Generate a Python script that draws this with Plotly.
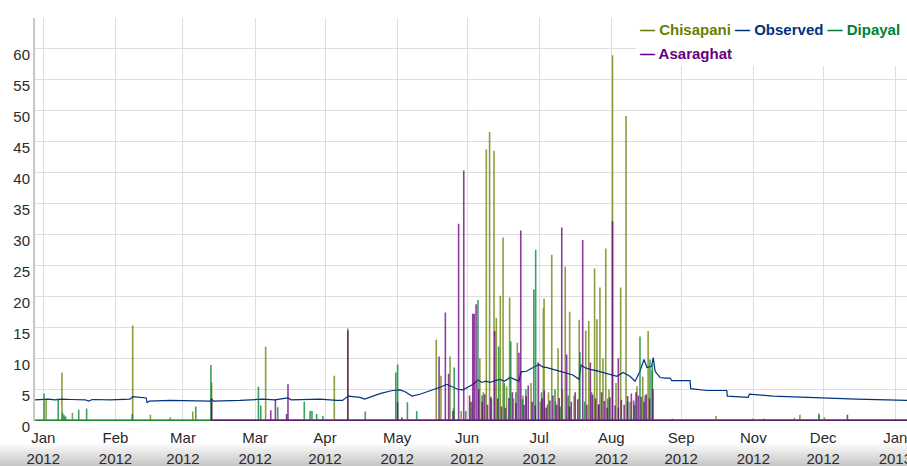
import numpy as np
import pandas as pd
import plotly.graph_objects as go

# Day-of-year positions (fractional days after 2012-01-01 00:00) and readings
chisapani_doy = [-3.6, 1.2, 8.0, 12.5, 38.4, 46.0, 54.5, 64.2, 72.3, 95.5, 125.0, 130.8,
                 168.8, 170.8, 174.7, 176.2, 179.5, 183.5, 187.5, 189.0, 190.3, 191.7,
                 193.6, 194.6, 196.3, 197.5, 199.0, 200.3, 202.0, 203.6, 206.0, 209.5,
                 213.5, 214.8, 215.1, 217.0, 218.4, 220.0, 221.1, 223.0, 224.2, 226.1,
                 228.0, 230.2, 233.0, 234.3, 236.8, 237.8, 239.1, 240.4, 241.6, 243.0,
                 244.5, 246.0, 248.0, 250.3, 252.0, 255.0, 257.5, 259.8, 261.5, 270.2,
                 289.0, 304.7, 309.7, 322.6, 325.0, 333.2, 335.5, 371.0]
chisapani_mm = [0, 3.4, 7.7, 1.2, 15.3, 0.9, 0.5, 1.4, 6.1, 11.9, 7.2, 14.8,
                13.0, 7.2, 10.3, 2.0, 1.5, 3.0, 10.0, 4.5, 43.7, 46.5,
                43.5, 16.5, 20.1, 29.5, 5.5, 19.8, 3.5, 12.5, 4.0, 6.0,
                3.0, 18.1, 19.6, 4.5, 26.7, 3.0, 11.6, 5.0, 24.8, 17.5,
                4.0, 16.2, 14.5, 16.0, 24.5, 16.3, 21.4, 10.0, 27.7, 5.0,
                58.9, 6.0, 21.4, 49.1, 3.0, 5.5, 7.0, 14.4, 8.0, 0.3,
                0.7, 0.3, 0.3, 0.4, 0.9, 0.8, 0.5, 0]

dipayal_doy = [-3.6, 0.3, 6.4, 8.3, 9.0, 9.6, 15.2, 18.6, 38.2, 65.5, 72.0, 92.4, 93.4,
               100.7, 112.1, 114.6, 115.4, 117.4, 120.1, 138.3, 151.4, 152.2, 156.4,
               160.4, 176.5, 181.5, 184.0, 186.7, 188.5, 192.5, 195.6, 198.0, 200.8,
               203.0, 205.8, 207.3, 210.7, 211.5, 214.0, 216.5, 219.8, 222.0, 225.5,
               230.5, 232.5, 235.5, 238.5, 242.5, 247.0, 251.0, 254.0, 256.3, 258.5,
               260.6, 261.6, 333.2, 371.0]
dipayal_mm = [0, 4.3, 3.5, 1.2, 0.8, 0.6, 1.7, 1.9, 1.0, 2.2, 8.9, 5.4, 2.4,
              2.1, 3.0, 1.5, 1.5, 1.0, 0.7, 1.4, 7.7, 9.0, 2.9,
              1.5, 8.5, 1.5, 3.0, 19.4, 4.0, 3.5, 11.9, 6.0, 12.7,
              4.5, 3.4, 5.0, 21.1, 27.5, 4.5, 2.5, 5.0, 2.2, 4.0,
              11.0, 3.0, 4.5, 2.5, 3.5, 2.0, 3.0, 2.5, 13.5, 4.0,
              9.8, 9.0, 1.1, 0]

asaraghat_doy = [72.0, 72.3, 97.7, 99.7, 104.5, 105.1, 130.8, 152.2, 154.0, 170.0, 172.7,
                 174.1, 176.0, 178.4, 180.6, 183.1, 184.5, 185.1, 185.9, 187.0, 188.5,
                 189.6, 190.8, 192.2, 193.9, 195.2, 196.8, 198.5, 200.0, 201.5, 203.0,
                 204.3, 205.1, 206.5, 207.4, 208.3, 210.0, 211.3, 212.6, 214.3, 215.2,
                 216.0, 217.6, 218.9, 220.5, 221.6, 222.7, 224.8, 226.0, 226.8, 228.5,
                 229.6, 231.7, 233.5, 235.0, 236.0, 237.2, 238.6, 239.8, 241.0, 242.2,
                 243.4, 244.5, 245.6, 247.0, 248.3, 249.5, 251.0, 252.6, 253.6, 254.6,
                 255.6, 256.8, 258.0, 259.0, 260.4, 261.9, 345.4, 371.0]
asaraghat_mm = [0, 3.3, 1.6, 3.4, 1.0, 5.8, 14.5, 2.9, 0.5, 10.3, 17.4,
                7.5, 1.5, 31.7, 40.3, 4.0, 17.2, 17.2, 18.7, 5.0, 3.0,
                4.2, 2.5, 3.8, 14.4, 3.5, 2.2, 2.0, 3.6, 4.5, 2.8,
                10.9, 30.6, 2.5, 3.9, 5.6, 3.0, 2.4, 9.3, 3.5, 4.8,
                2.0, 3.2, 4.0, 2.5, 3.6, 31.1, 10.6, 2.2, 3.0, 4.5,
                3.4, 29.1, 2.5, 9.3, 4.1, 3.5, 2.6, 4.5, 3.1, 2.0,
                3.7, 32.1, 2.4, 10.0, 3.3, 2.5, 3.9, 4.3, 3.2, 4.5,
                4.0, 3.8, 3.0, 4.2, 3.5, 5.0, 0.9, 0]

observed_doy = [-3.6, 2, 5, 8, 12, 18, 19.5, 21, 28.7, 37.2, 38.5, 41, 44.2, 44.6, 45.5,
                54.4, 67.3, 71.8, 72.2, 73.0, 84.5, 94.0, 99.5, 105.0, 106.5, 118.8,
                126.0, 128.5, 131.0, 136.0, 138.0, 144.6, 150.0, 153.2, 155.4, 158.4,
                161.8, 165.0, 168.7, 171.0, 173.3, 176.0, 178.0, 180.3, 182.5, 184.6,
                186.7, 188.5, 190.0, 191.9, 194.0, 196.2, 198.0, 200.5, 202.5, 204.3,
                205.2, 207.5, 210.4, 212.9, 214.5, 216.4, 219.0, 221.9, 224.5, 227.5,
                230.1, 231.0, 232.5, 234.8, 237.5, 240.4, 243.5, 246.4, 249.0, 252.0,
                254.2, 256.3, 258.0, 259.3, 261.3, 262.0, 262.8, 264.9, 267.0, 269.2,
                270.0, 277.8, 278.1, 285.0, 293.6, 293.8, 302.8, 303.3, 313.4, 332.2,
                349.4, 371.0]
observed_val = [3.3, 3.4, 3.3, 3.4, 3.35, 3.3, 3.1, 3.35, 3.3, 3.4, 3.8, 3.7, 3.6, 2.8, 3.1,
                3.2, 3.2, 3.1, 3.5, 3.1, 3.2, 3.4, 3.3, 3.6, 3.3, 3.4,
                3.2, 3.2, 3.9, 3.7, 3.4, 4.3, 4.8, 4.9, 4.6, 3.9,
                4.2, 4.6, 5.1, 5.4, 5.8, 5.4, 5.0, 4.9, 5.3, 5.8,
                6.5, 6.1, 6.3, 6.1, 6.4, 6.6, 6.3, 6.9, 6.6, 6.3,
                7.8, 7.9, 8.5, 9.0, 8.6, 8.5, 8.2, 7.9, 7.6, 7.3,
                6.6, 8.9, 8.5, 8.2, 8.0, 7.7, 7.4, 7.1, 7.7, 7.1,
                6.3, 7.9, 9.8, 8.5, 8.7, 10.1, 7.9, 6.9, 6.8, 6.8,
                6.4, 6.4, 5.1, 4.8, 4.8, 3.9, 3.7, 4.2, 3.9, 3.6,
                3.4, 3.2]

tick_dates = ["2012-01-01", "2012-02-01", "2012-03-01", "2012-04-01", "2012-05-01",
              "2012-06-01", "2012-07-01", "2012-08-01", "2012-09-01", "2012-10-01",
              "2012-11-01", "2012-12-01", "2013-01-01"]
tick_months = ["Jan", "Feb", "Mar", "Mar", "Apr", "May", "Jun", "Jul", "Aug", "Sep",
               "Nov", "Dec", "Jan"]
tick_years = ["2012"] * 12 + ["2013"]

series_names = ["Chisapani", "Observed", "Dipayal", "Asaraghat"]
series_colors = ["rgb(102,128,0)", "rgb(0,51,128)", "rgb(0,128,51)", "rgb(102,0,128)"]

BASE = pd.Timestamp("2012-01-01")


def to_time(doy):
    return BASE + pd.to_timedelta(np.asarray(doy, dtype=float), unit="D")


def spikes(doy, vals):
    """Each reading rises from the zero baseline and returns to it."""
    xs, ys = [], []
    for t, v in zip(to_time(doy), vals):
        xs += [t, t, t]
        ys += [0, v, 0]
    return xs, ys


x_range = [to_time([-3.57])[0], to_time([371.0])[0]]

fig = go.Figure()

cx, cy = spikes(chisapani_doy, chisapani_mm)
fig.add_trace(go.Scatter(x=cx, y=cy, mode="lines", name=series_names[0],
                         line=dict(color=series_colors[0], width=1.6, simplify=False),
                         opacity=0.75))
fig.add_trace(go.Scatter(x=to_time(observed_doy), y=observed_val, mode="lines",
                         name=series_names[1],
                         line=dict(color=series_colors[1], width=1.2)))
dx, dy = spikes(dipayal_doy, dipayal_mm)
fig.add_trace(go.Scatter(x=dx, y=dy, mode="lines", name=series_names[2],
                         line=dict(color=series_colors[2], width=1.6, simplify=False),
                         opacity=0.75))
ax_, ay_ = spikes(asaraghat_doy, asaraghat_mm)
fig.add_trace(go.Scatter(x=ax_, y=ay_, mode="lines", name=series_names[3],
                         line=dict(color=series_colors[3], width=1.6, simplify=False),
                         opacity=0.75))
# carrier for the year row of the date axis
fig.add_trace(go.Scatter(x=[x_range[0]], y=[None], mode="lines", xaxis="x2",
                         showlegend=False, hoverinfo="skip"))

W, H = 907, 466
ML, MR, MT, MB = 35, 0, 18, 45
PW, PH = W - ML - MR, H - MT - MB


def px_x(px):
    return (px - ML) / PW


def px_y(py):
    return (H - MB - py) / PH


grid = "rgb(222,222,222)"
tick_font = dict(family="Liberation Sans, Arial, sans-serif", size=15, color="#2a2a2a")

# soft grey shading along the bottom edge of the page
shapes = []
n_strips = 11
for i in range(n_strips):
    y0 = 444 + i * 2
    g = int(254 - (i + 1) * 5)
    shapes.append(dict(type="rect", xref="paper", yref="paper",
                       x0=px_x(0), x1=px_x(W), y0=px_y(y0), y1=px_y(y0 + 2.2),
                       fillcolor=f"rgb({g},{g},{g})", line=dict(width=0), layer="below"))
# legend backdrop
shapes.append(dict(type="rect", xref="paper", yref="paper",
                   x0=px_x(636), x1=px_x(W), y0=px_y(66), y1=px_y(MT),
                   fillcolor="white", line=dict(width=0), layer="above"))


def legend_item(name, color):
    return f'<span style="color:{color}"><b>\u2014 {name}</b></span>'


line1 = " ".join(legend_item(n, c) for n, c in zip(series_names[:3], series_colors[:3]))
line2 = legend_item(series_names[3], series_colors[3])
legend_font = dict(family="Liberation Sans, Arial, sans-serif", size=15)
annotations = [
    dict(text=line1, xref="paper", yref="paper", x=px_x(638), y=px_y(30),
         xanchor="left", yanchor="middle", showarrow=False, font=legend_font),
    dict(text=line2, xref="paper", yref="paper", x=px_x(638), y=px_y(54),
         xanchor="left", yanchor="middle", showarrow=False, font=legend_font),
]

fig.update_layout(
    width=W, height=H,
    margin=dict(l=ML, r=MR, t=MT, b=MB, pad=0, autoexpand=False),
    paper_bgcolor="white", plot_bgcolor="white",
    showlegend=False,
    shapes=shapes,
    annotations=annotations,
    xaxis=dict(type="date", range=x_range, tickmode="array",
               tickvals=tick_dates, ticktext=tick_months, tickfont=tick_font,
               showgrid=True, gridcolor=grid, gridwidth=1, ticks="",
               showline=False, zeroline=False, ticklabelstandoff=6,
               ticklabeloverflow="allow", automargin=False),
    xaxis2=dict(type="date", range=x_range, overlaying="x", anchor="y", side="bottom",
                tickmode="array", tickvals=tick_dates, ticktext=tick_years,
                tickfont=tick_font, showgrid=False, ticks="", showline=False,
                zeroline=False, ticklabelstandoff=27, ticklabeloverflow="allow",
                automargin=False),
    yaxis=dict(range=[-0.12, 64.9], tickmode="array", tickvals=list(range(0, 61, 5)),
               tickfont=tick_font, showgrid=True, gridcolor=grid, gridwidth=1,
               ticks="", showline=True, linecolor="rgb(200,200,200)", linewidth=2,
               zeroline=False, ticklabelshift=6, ticklabelstandoff=0,
               automargin=False),
)

fig.write_html("out.html")
